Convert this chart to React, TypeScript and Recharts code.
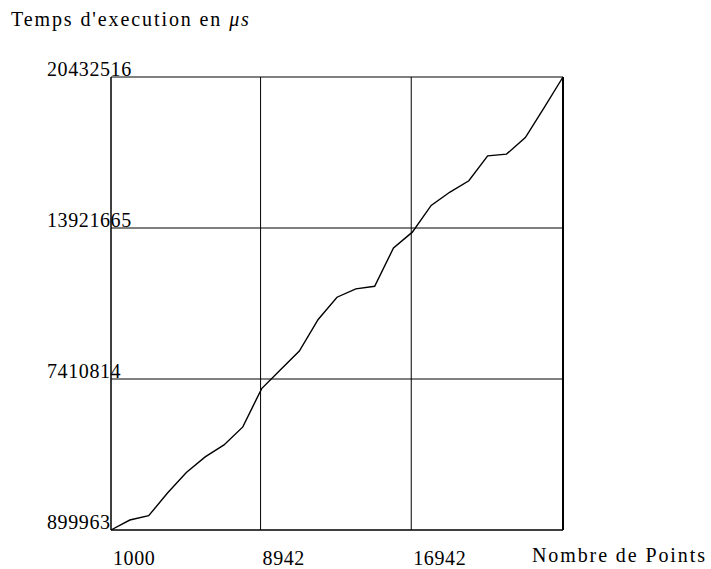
import { LineChart, Line, XAxis, YAxis, CartesianGrid, ReferenceLine } from "recharts";

// nombre de points (abscisse)
const points = [
  1000, 2000, 3000, 4000, 5000, 6000, 7000, 8000, 9000, 10000, 11000, 12000, 13000,
  14000, 15000, 16000, 17000, 18000, 19000, 20000, 21000, 22000, 23000, 24000, 25000,
];

// temps d'execution en microsecondes
const temps = [
  899963, 1330193, 1515192, 2491814, 3382390, 4053549, 4569825, 5344239, 6996322,
  7805155, 8613987, 9977816, 10937229, 11298622, 11410482, 13062565, 13742329,
  14895345, 15471853, 15958013, 17033588, 17106727, 17820909, 19111599, 20432516,
];

const xTicks = [1000, 8942, 16942, 25000];
const yTicks = [899963, 7410814, 13921665, 20432516];

const data = points.map((n, i) => ({ n, t: temps[i] }));

const FONT = "'Liberation Serif', 'DejaVu Serif', serif";

const renderYTick = (props: any) => {
  const { y, payload } = props;
  return (
    <text x={47} y={y - 1} fontFamily={FONT} fontSize={20} fill="#000" textAnchor="start" letterSpacing={0.6}>
      {payload.value}
    </text>
  );
};

const renderXTick = (props: any) => {
  const { x, payload } = props;
  if (payload.value === 25000) return <g />;
  return (
    <text x={x + 2} y={565} fontFamily={FONT} fontSize={20} fill="#000" textAnchor="start" letterSpacing={0.6}>
      {payload.value}
    </text>
  );
};

export default function App() {
  return (
    <div style={{ position: "absolute", left: 0, top: 0, width: 711, height: 569, background: "#fff" }}>
      <div style={{ position: "absolute", left: 11, top: 8, fontFamily: FONT, fontSize: 20, letterSpacing: 1.9, whiteSpace: "nowrap" }}>
        Temps d'execution en <i>μs</i>
      </div>
      <div style={{ position: "absolute", left: 532, top: 544, fontFamily: FONT, fontSize: 20, letterSpacing: 1.9, whiteSpace: "nowrap" }}>
        Nombre de Points
      </div>
      <LineChart
        width={711}
        height={569}
        data={data}
        margin={{ top: 77, right: 148, bottom: 38, left: 110 }}
        style={{ overflow: "visible" }}
      >
        <CartesianGrid stroke="#000" strokeWidth={1} fill="none" />
        <XAxis
          dataKey="n"
          type="number"
          domain={[1000, 25000]}
          ticks={xTicks}
          height={1}
          axisLine={{ stroke: "#000" }}
          tickLine={false}
          tick={renderXTick}
          interval={0}
        />
        <YAxis
          type="number"
          domain={[899963, 20432516]}
          ticks={yTicks}
          width={1}
          axisLine={{ stroke: "#000" }}
          tickLine={false}
          tick={renderYTick}
          interval={0}
        />
        <ReferenceLine x={25000} stroke="#000" strokeWidth={2} />
        <Line
          type="linear"
          dataKey="t"
          stroke="#000"
          strokeWidth={1.4}
          dot={false}
          isAnimationActive={false}
        />
      </LineChart>
    </div>
  );
}
